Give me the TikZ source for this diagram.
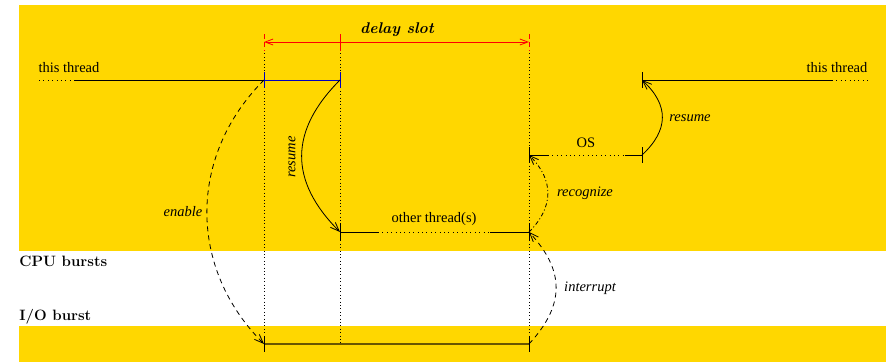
\documentclass[tikz,border=0pt]{standalone}
\usepackage{fontspec}
\newfontfamily\tms{Liberation Serif}
\usetikzlibrary{arrows.meta}
\definecolor{band}{HTML}{FFD700}
\definecolor{thrblue}{RGB}{0,0,190}
\definecolor{bottomline}{RGB}{105,85,0}
\begin{document}
\begin{tikzpicture}[x=1pt,y=-1pt, line width=0.8pt,
  lbl/.style={font=\tms\fontsize{14.5}{17}\selectfont, inner sep=0pt},
  ilbl/.style={font=\tms\itshape\fontsize{14.5}{17}\selectfont, inner sep=0pt},
  blbl/.style={font=\fontsize{15}{18}\selectfont\bfseries, inner sep=0pt, anchor=west},
  tip/.style={-{Straight Barb[length=9pt,width=7pt]}},
  rtip/.style={{Straight Barb[length=8pt,width=6pt]}-{Straight Barb[length=8pt,width=6pt]}},
  vdot/.style={dash pattern=on 0.8pt off 2.6pt, line width=0.8pt},
  hdot/.style={dash pattern=on 0.9pt off 3.5pt, line width=0.9pt},
  dsh/.style={dash pattern=on 5pt off 4pt},
  dshdot/.style={dash pattern=on 4pt off 2.5pt on 1pt off 2.5pt},
]
% background and bands
\fill[white] (0,0) rectangle (886,362);
\useasboundingbox (0,0) rectangle (886,362);
\fill[band] (19,5) rectangle (886,251);
\fill[band] (19,326) rectangle (886,362);

% key coordinates
\coordinate (LS) at (39,80);
\coordinate (LD) at (75,80);
\coordinate (A) at (264,80);
\coordinate (B) at (340,80);
\coordinate (R) at (642,80);
\coordinate (RD) at (832,80);
\coordinate (RE) at (870,80);
\coordinate (OSL) at (529,155);
\coordinate (OSR) at (642,155);
\coordinate (OT1) at (340,232);
\coordinate (OT2) at (529,232);
\coordinate (IO1) at (264,344);
\coordinate (IO2) at (529,344);
\coordinate (DS1) at (264,42);
\coordinate (DS2) at (529,42);
\coordinate (DSm) at (340,42);

% dotted verticals
\draw[vdot] (264,50) -- (IO1);
\draw[vdot] (340,50) -- (340,345);
\draw[vdot] (529,50) -- (IO2);

% delay slot
\draw[red, dash pattern=on 5pt off 3pt] (264,34) -- (264,51);
\draw[red, dash pattern=on 5pt off 3pt] (529,34) -- (529,51);
\draw[red] (340,34) -- (340,51);
\draw[red, rtip] (DS1) -- (DS2);
\node[font=\fontsize{15.5}{18}\selectfont\bfseries\itshape, inner sep=0pt] (ds) at (397,30) {delay slot};

% this thread left
\draw[hdot] (LS) -- (LD);
\draw (LD) -- (A);
\draw[thrblue] (A) -- (B);
\draw[thrblue] (264,72) -- (264,88);
\draw[thrblue] (340,72) -- (340,88);
\node[lbl] (tl) at (69,68) {this thread};

% this thread right
\draw (R) -- (RD);
\draw[hdot] (RD) -- (RE);
\draw (642,72) -- (642,88);
\node[lbl] (tr) at (837,68) {this thread};

% OS
\draw (OSL) -- (548,155);
\draw[hdot] (548,155) -- (625,155);
\draw (625,155) -- (OSR);
\draw (529,147) -- (529,163);
\draw (642,147) -- (642,163);
\node[lbl] (os) at (586,143) {OS};

% other thread(s)
\draw (OT1) -- (378,232);
\draw[hdot] (378,232) -- (490,232);
\draw (490,232) -- (OT2);
\draw (340,224) -- (340,240);
\draw (529,224) -- (529,240);
\node[lbl] (ot) at (434,219) {other thread(s)};

% I/O burst line
\draw[bottomline, line width=1.1pt] (IO1) -- (IO2);
\draw (264,336) -- (264,352);
\draw (529,336) -- (529,352);

% curves
\draw[dsh, tip] (A) .. controls (188,156) and (188,268) .. (IO1);
\node[ilbl] (en) at (183,212) {enable};

\draw[tip] (B) .. controls (289,131) and (289,181) .. (OT1);
\node[ilbl, rotate=90] (rs1) at (292,157) {resume};

\draw[tip] (OSR) .. controls (669,130) and (669,105) .. (R);
\node[ilbl] (rs2) at (690,118) {resume};

\draw[dshdot, tip] (OT2) .. controls (554,207) and (554,180) .. (OSL);
\node[ilbl] (rc) at (585,193) {recognize};

\draw[dsh, tip] (IO2) .. controls (565,305) and (565,271) .. (OT2);
\node[ilbl] (ir) at (590,288) {interrupt};

% band labels
\node[blbl] (cpu) at (19,261) {CPU bursts};
\node[blbl] (io) at (19,317) {I/O burst};
\end{tikzpicture}
\end{document}
